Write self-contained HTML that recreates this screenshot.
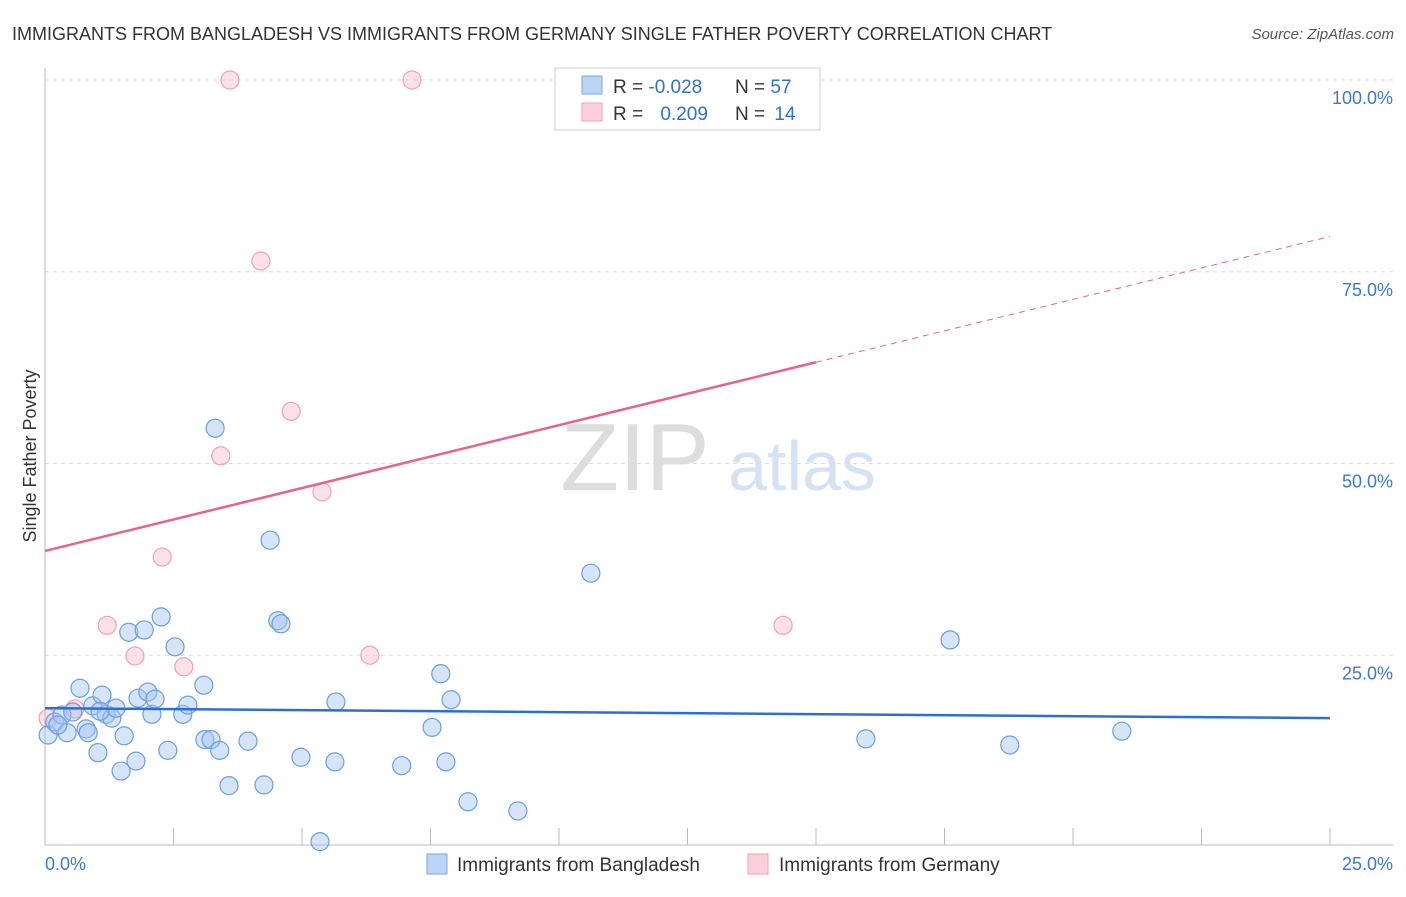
<!DOCTYPE html>
<html><head><meta charset="utf-8"><style>
body{margin:0;background:#fff;font-family:"Liberation Sans",sans-serif;}
svg text{font-family:"Liberation Sans",sans-serif;}
</style></head><body>
<svg id="c" width="1406" height="892">
<text x="12" y="40" font-size="18" fill="#333">IMMIGRANTS FROM BANGLADESH VS IMMIGRANTS FROM GERMANY SINGLE FATHER POVERTY CORRELATION CHART</text>
<text x="1394" y="39" font-size="15" fill="#555" font-style="italic" text-anchor="end">Source: ZipAtlas.com</text>
<text x="36" y="456" font-size="18" fill="#333" text-anchor="middle" transform="rotate(-90 36 456)">Single Father Poverty</text>
<g>
<text x="635" y="490" font-size="96" fill="#ddd" font-family="Liberation Serif,serif" text-anchor="middle">ZIP</text>
<text x="802" y="490" font-size="70" fill="#d5e2f3" text-anchor="middle">atlas</text>
</g>
<g id="grid"></g><g id="marks"></g>
<g>
<rect x="555" y="68" width="265" height="62" fill="#fff" stroke="#ccc"/>
<rect x="582" y="76" width="20" height="18" fill="#bcd4f5" stroke="#7aa6e0"/>
<rect x="582" y="103" width="20" height="18" fill="#fbd0dc" stroke="#f0a0b8"/>
<text x="613" y="93" font-size="19" fill="#333">R = <tspan fill="#2f6fd6">-0.028</tspan></text>
<text x="735" y="93" font-size="19" fill="#333">N = <tspan fill="#2f6fd6">57</tspan></text>
<text x="613" y="120" font-size="19" fill="#333">R = <tspan fill="#2f6fd6" dx="12">0.209</tspan></text>
<text x="735" y="120" font-size="19" fill="#333">N = <tspan fill="#2f6fd6" dx="4">14</tspan></text>
</g>
<g>
<rect x="427" y="854" width="20" height="20" fill="#bcd4f5" stroke="#7aa6e0"/>
<text x="457" y="871" font-size="19" fill="#333">Immigrants from Bangladesh</text>
<rect x="748" y="854" width="20" height="20" fill="#fbd0dc" stroke="#f0a0b8"/>
<text x="779" y="871" font-size="19" fill="#333">Immigrants from Germany</text>
</g>
</svg>
<script>
const blueX=[0.06,0.19,0.33,0.43,0.54,0.68,0.80,0.84,0.93,1.03,1.11,1.19,1.30,1.38,1.48,1.54,1.63,1.77,1.81,1.93,2.00,2.08,2.14,2.26,2.39,2.53,2.68,2.78,3.09,3.11,3.23,3.31,3.40,3.58,3.95,4.26,4.38,4.53,4.59,4.98,5.35,5.66,5.64,6.94,7.53,7.70,7.80,7.90,8.23,9.20,10.62,15.97,17.61,18.77,20.95,0.25,1.07];
const blueY=[14.6,16.3,17.2,14.9,17.6,20.7,15.4,14.9,18.4,12.3,19.8,17.3,16.8,18.1,9.9,14.5,28.0,11.2,19.4,28.3,20.2,17.3,19.3,30.0,12.6,26.1,17.3,18.5,21.1,14.0,14.0,54.6,12.6,8.0,13.8,8.1,40.0,29.5,29.1,11.7,0.7,18.9,11.1,10.6,15.6,22.6,11.1,19.2,5.9,4.7,35.7,14.1,27.0,13.3,15.1,15.9,17.7];
const pinkX=[0.06,0.58,1.21,1.75,2.28,2.70,3.42,3.60,4.20,4.79,5.39,6.32,7.14,14.36];
const pinkY=[16.8,18.0,28.9,24.9,37.8,23.5,51.0,100,76.4,56.8,46.3,25.0,100,28.9];
const blueTrend=[18.1,16.8]; // y at x=0 and x=25
const pinkTrend=[38.6,1.64]; // intercept, slope
const pinkSolidEnd=15.0;
const yTicks=[25,50,75,100];
const xTickLabels=["0.0%","25.0%"];
const NS="http://www.w3.org/2000/svg";
const X=v=>45+v/25*1285, Y=v=>847-v*7.67;
function mk(t,a,p){const e=document.createElementNS(NS,t);for(const k in a)e.setAttribute(k,a[k]);p.appendChild(e);return e;}
const g=document.getElementById('grid'), m=document.getElementById('marks');
yTicks.forEach(t=>{
 const l=mk('line',{x1:45,x2:1393,y1:Y(t),y2:Y(t),stroke:'#ddd','stroke-dasharray':'4,4'},g);
 
 
 const tx=mk('text',{x:1393,y:Y(t)+24,'font-size':18,fill:'#3a78d8','text-anchor':'end'},g);tx.textContent=t.toFixed(1)+'%';
 
 
});
mk('line',{x1:45,x2:45,y1:68,y2:845,stroke:'#bbb'},g);
mk('line',{x1:45,x2:1393,y1:845,y2:845,stroke:'#bbb'},g);
for(let i=0;i<=10;i++){const x=X(i*2.5);const t=mk('line',{x1:x,x2:x,y1:828,y2:845,stroke:'#bbb'},g);
 
 }
const xl0=mk('text',{x:45,y:870,'font-size':18,fill:'#3a78d8'},g);xl0.textContent=xTickLabels[0];


const xl1=mk('text',{x:1393,y:870,'font-size':18,fill:'#3a78d8','text-anchor':'end'},g);xl1.textContent=xTickLabels[1];


pinkX.forEach((x,i)=>{const c=mk('circle',{cx:X(x),cy:Y(pinkY[i]),r:9,fill:'rgba(248,180,200,0.4)',stroke:'#f0a0b8','stroke-width':1.2},m);
 
 });
blueX.forEach((x,i)=>{const c=mk('circle',{cx:X(x),cy:Y(blueY[i]),r:9,fill:'rgba(163,196,240,0.45)',stroke:'#6a9ee0','stroke-width':1.2},m);
 
 });
const bl=mk('line',{x1:X(0),y1:Y(blueTrend[0]),x2:X(25),y2:Y(blueTrend[1]),stroke:'#2a6fd8','stroke-width':2.5},m);


const pf=x=>pinkTrend[0]+pinkTrend[1]*x;
const pl=mk('line',{x1:X(0),y1:Y(pf(0)),x2:X(pinkSolidEnd),y2:Y(pf(pinkSolidEnd)),stroke:'#e8628e','stroke-width':2.5},m);


const pd=mk('line',{x1:X(pinkSolidEnd),y1:Y(pf(pinkSolidEnd)),x2:X(25),y2:Y(pf(25)),stroke:'#e8628e','stroke-width':1,'stroke-dasharray':'6,5'},m);


</script>
</body></html>
